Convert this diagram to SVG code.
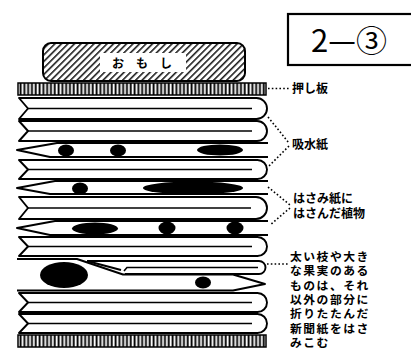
<svg xmlns="http://www.w3.org/2000/svg" width="411" height="349" viewBox="0 0 411 349">
  <defs>
    <!-- diagonal hatch for the weight -->
    <pattern id="hatch" width="4.6" height="4.6" patternUnits="userSpaceOnUse" patternTransform="rotate(45)">
      <rect width="4.6" height="4.6" fill="#fff"/>
      <line x1="0.8" y1="0" x2="0.8" y2="4.6" stroke="#000" stroke-width="1.4"/>
    </pattern>
    <!-- vertical grain for the press boards -->
    <pattern id="grain" width="3.8" height="14" patternUnits="userSpaceOnUse">
      <rect width="3.8" height="14" fill="#fff"/>
      <rect x="0.6" width="1.9" height="14" fill="#000"/>
    </pattern>
    <style>
      .ol { fill: #fff; stroke: #000; stroke-width: 1.9; stroke-linejoin: round; }
      .ln { fill: none; stroke: #000; stroke-width: 1.9; stroke-linejoin: round; }
      .mid { fill: none; stroke: #000; stroke-width: 1.6; }
      .blot { fill: #000; }
      .board { fill: url(#grain); stroke: #000; stroke-width: 1.5; }
      .dot { fill: none; stroke: #000; stroke-width: 1.6; stroke-dasharray: 1.6 2.2; }
      .lbl { font-family: "Noto Sans CJK JP", "Noto Sans", sans-serif; font-weight: 700; font-size: 12px; fill: #000; }
      .note { font-family: "Noto Sans CJK JP", "Noto Sans", sans-serif; font-weight: 700; font-size: 11.8px; letter-spacing: 1.5px; fill: #000; }
    </style>
  </defs>

  <rect width="411" height="349" fill="#fff"/>

  <!-- figure number box -->
  <g id="figure-number">
    <rect x="288" y="14" width="130" height="51" fill="#fff" stroke="#000" stroke-width="2.2"/>
    <text x="349" y="52" text-anchor="middle" font-family="'Noto Sans CJK JP', 'Liberation Sans', sans-serif" font-size="31" fill="#000">2—③</text>
  </g>

  <!-- weight -->
  <g id="weight">
    <rect x="43" y="43" width="202" height="38" rx="8" fill="url(#hatch)" stroke="#000" stroke-width="2"/>
    <rect x="100" y="53" width="86" height="19" fill="#fff"/>
    <text x="148" y="67.5" text-anchor="middle" class="lbl" font-size="13" letter-spacing="12">おもし</text>
  </g>

  <!-- press boards -->
  <g id="press-board-top">
    <rect class="board" x="18" y="83" width="248" height="12"/>
  </g>
  <g id="press-board-bottom">
    <rect class="board" x="18" y="335" width="248" height="12"/>
  </g>

  <!-- folded absorbent paper sheets (notched left, fold at right) -->
  <g id="blotter-1">
    <path class="ol" d="M19,98 H256.5 A10.5,10.5 0 0 1 256.5,119 H19 L28,108.5 Z"/>
    <path class="mid" d="M28,108.5 H252"/>
  </g>
  <g id="blotter-2">
    <path class="ol" d="M19,121 H257 A10,10 0 0 1 257,141 H19 L28,131 Z"/>
    <path class="mid" d="M28,131 H252"/>
  </g>
  <g id="blotter-3">
    <path class="ol" d="M19,160 H257.5 A9.5,9.5 0 0 1 257.5,179 H19 L28,169.5 Z"/>
    <path class="mid" d="M28,169.5 H252"/>
  </g>
  <g id="blotter-4">
    <path class="ol" d="M19,197 H256 A11,11 0 0 1 256,219 H19 L28,208 Z"/>
    <path class="mid" d="M28,208 H251"/>
  </g>
  <g id="blotter-5">
    <path class="ol" d="M19,237 H257.5 A9.5,9.5 0 0 1 257.5,256 H19 L28,246.5 Z"/>
    <path class="mid" d="M28,246.5 H252"/>
  </g>
  <g id="blotter-6">
    <path class="ol" d="M19,293 H257.5 A9.5,9.5 0 0 1 257.5,312 H19 L28,302.5 Z"/>
    <path class="mid" d="M28,302.5 H252"/>
  </g>
  <g id="blotter-7">
    <path class="ol" d="M19,314 H257.5 A9.5,9.5 0 0 1 257.5,333 H19 L28,323.5 Z"/>
    <path class="mid" d="M28,323.5 H252"/>
  </g>

  <!-- folding sheets holding the plants (pointed fold at left) -->
  <g id="plant-sheet-1">
    <path class="ln" d="M268,143 H57 L17,150 L50,157 H268"/>
    <ellipse class="blot" cx="66" cy="150.5" rx="8" ry="6"/>
    <ellipse class="blot" cx="118" cy="150.5" rx="8" ry="6"/>
    <ellipse class="blot" cx="220" cy="150" rx="23" ry="5.5"/>
  </g>
  <g id="plant-sheet-2">
    <path class="ln" d="M268,181 H55 L17,188 L50,194 H268"/>
    <ellipse class="blot" cx="80" cy="188.5" rx="8" ry="6"/>
    <ellipse class="blot" cx="193" cy="188" rx="50" ry="6.5"/>
  </g>
  <g id="plant-sheet-3">
    <path class="ln" d="M268,221 H55 L17,228 L50,235 H268"/>
    <ellipse class="blot" cx="95" cy="228.5" rx="23" ry="6"/>
    <ellipse class="blot" cx="167" cy="228" rx="8.5" ry="6.5"/>
    <ellipse class="blot" cx="235" cy="228" rx="8.5" ry="6.5"/>
  </g>

  <!-- sheet with a thick fruit, levelled by an inserted folded newspaper -->
  <g id="plant-sheet-4">
    <path class="ln" d="M17,259 H77 L123,274.5 H233 L265,284 L233,290.5 H17"/>
    <ellipse class="blot" cx="64" cy="275" rx="24" ry="13"/>
    <ellipse class="blot" cx="203" cy="282.5" rx="8" ry="6"/>
  </g>
  <g id="inserted-newspaper">
    <path class="ln" d="M87,261 H259 A6.5,6.5 0 0 1 259,274 H125"/>
    <path class="ln" d="M87,261 L121,270"/>
    <path class="mid" d="M124,271 L127,267.5 H258"/>
  </g>

  <!-- leader lines -->
  <g id="connectors">
    <path class="dot" d="M268,88.5 H289"/>
    <path class="dot" d="M268,117 L289,143"/>
    <path class="dot" d="M289,146 L268,167"/>
    <path class="dot" d="M268,187 L290,205"/>
    <path class="dot" d="M290,208 L270,225"/>
    <path class="dot" d="M267,264 H289"/>
  </g>

  <!-- labels -->
  <g id="label-press-board">
    <text class="lbl" x="292" y="93">押し板</text>
  </g>
  <g id="label-blotter">
    <text class="lbl" x="292" y="149">吸水紙</text>
  </g>
  <g id="label-plant-sheet">
    <text class="lbl" x="293" y="203">はさみ紙に<tspan x="293" y="218">はさんだ植物</tspan></text>
  </g>
  <g id="label-thick-specimen">
    <text class="note" x="290" y="261">太い枝や大き<tspan x="290" y="275.3">な果実のある</tspan><tspan x="290" y="289.6">ものは、それ</tspan><tspan x="290" y="303.9">以外の部分に</tspan><tspan x="290" y="318.2">折りたたんだ</tspan><tspan x="290" y="332.5">新聞紙をはさ</tspan><tspan x="290" y="346.8">みこむ</tspan></text>
  </g>
</svg>
